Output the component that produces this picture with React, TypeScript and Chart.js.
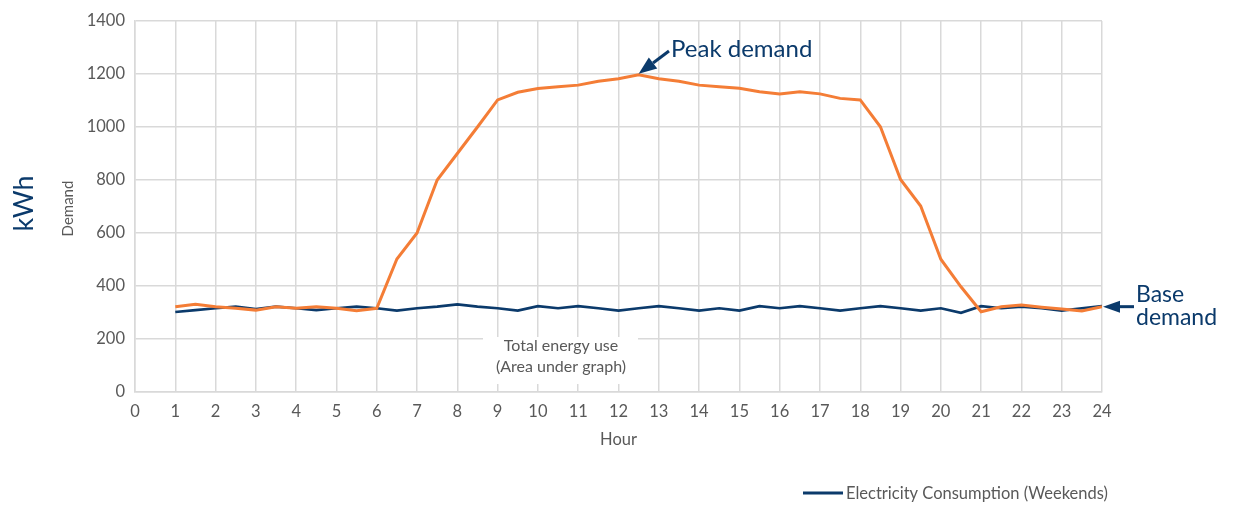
import { useEffect, useRef } from 'react';
import { Chart, registerables } from 'chart.js';

Chart.register(...registerables);

// ---- Data ----
const hours = [
  1, 1.5, 2, 2.5, 3, 3.5, 4, 4.5, 5, 5.5, 6, 6.5, 7, 7.5, 8, 8.5, 9, 9.5, 10, 10.5, 11, 11.5, 12, 12.5,
  13, 13.5, 14, 14.5, 15, 15.5, 16, 16.5, 17, 17.5, 18, 18.5, 19, 19.5, 20, 20.5, 21, 21.5, 22, 22.5, 23, 23.5, 24,
];
const weekdayDemand = [
  322, 331, 322, 316, 309, 322, 316, 322, 316, 307, 316, 502, 600, 800, 900, 1000, 1102, 1131, 1145, 1152, 1158, 1173, 1182, 1197,
  1182, 1173, 1158, 1152, 1146, 1133, 1125, 1133, 1125, 1108, 1102, 1001, 802, 702, 501, 397, 303, 322, 328, 320, 313, 306, 322,
];
const weekendDemand = [
  302, 309, 316, 322, 313, 322, 316, 309, 316, 322, 316, 307, 316, 322, 331, 322, 316, 307, 324, 316, 324, 316, 307, 316,
  324, 316, 307, 316, 307, 324, 316, 324, 316, 307, 316, 324, 316, 307, 316, 299, 324, 316, 322, 316, 307, 316, 324,
];
const xTicks = [0, 1, 2, 3, 4, 5, 6, 7, 8, 9, 10, 11, 12, 13, 14, 15, 16, 17, 18, 19, 20, 21, 22, 23, 24];
const yTicks = [0, 200, 400, 600, 800, 1000, 1200, 1400];
const weekdayLabel = 'Electricity Consumption (Weekdays)';
const weekendLabel = 'Electricity Consumption (Weekends)';
const peakHour = 12.5;
const peakValue = 1197;
const baseHour = 24;
const baseValue = 322;

// ---- Styles ----
const FONT = 'Lato, "Open Sans", sans-serif';
const NAVY = '#0B3A6B';
const ORANGE = '#F47D36';
const GRAY_TEXT = '#595959';
const GRID = '#D9D9D9';

function drawArrow(
  ctx: CanvasRenderingContext2D,
  x1: number, y1: number, x2: number, y2: number,
  headLen: number, headHalf: number, width: number, color: string,
) {
  const ang = Math.atan2(y2 - y1, x2 - x1);
  const bx = x2 - headLen * Math.cos(ang);
  const by = y2 - headLen * Math.sin(ang);
  ctx.save();
  ctx.strokeStyle = color;
  ctx.fillStyle = color;
  ctx.lineWidth = width;
  ctx.beginPath();
  ctx.moveTo(x1, y1);
  ctx.lineTo(bx, by);
  ctx.stroke();
  ctx.beginPath();
  ctx.moveTo(x2, y2);
  ctx.lineTo(bx + headHalf * Math.sin(ang), by - headHalf * Math.cos(ang));
  ctx.lineTo(bx - headHalf * Math.sin(ang), by + headHalf * Math.cos(ang));
  ctx.closePath();
  ctx.fill();
  ctx.restore();
}

export default function App() {
  const ref = useRef<HTMLCanvasElement>(null);

  useEffect(() => {
    const canvas = ref.current;
    if (!canvas) return;

    const annotations = {
      id: 'annotations',
      beforeDatasetsDraw(chart: any) {
        const { ctx } = chart;
        ctx.save();
        ctx.fillStyle = '#ffffff';
        ctx.fillRect(483, 337, 155, 47);
        ctx.fillStyle = GRAY_TEXT;
        ctx.font = `16px ${FONT}`;
        ctx.textAlign = 'center';
        ctx.textBaseline = 'middle';
        ctx.fillText('Total energy use', 561, 346);
        ctx.fillText('(Area under graph)', 561, 367);
        ctx.restore();
      },
      afterDraw(chart: any) {
        const { ctx, chartArea } = chart;
        const xs = chart.scales.x;
        const ys = chart.scales.y;
        const midY = (chartArea.top + chartArea.bottom) / 2;

        // Y axis titles
        ctx.save();
        ctx.translate(73, midY + 2);
        ctx.rotate(-Math.PI / 2);
        ctx.font = `15px ${FONT}`;
        ctx.fillStyle = GRAY_TEXT;
        ctx.textAlign = 'center';
        ctx.textBaseline = 'alphabetic';
        ctx.fillText('Demand', 0, 0);
        ctx.restore();

        ctx.save();
        ctx.translate(33, midY - 3);
        ctx.rotate(-Math.PI / 2);
        ctx.font = `27px ${FONT}`;
        ctx.fillStyle = NAVY;
        ctx.textAlign = 'center';
        ctx.textBaseline = 'alphabetic';
        ctx.fillText('kWh', 0, 0);
        ctx.restore();

        // Peak demand
        const px = xs.getPixelForValue(peakHour);
        const py = ys.getPixelForValue(peakValue);
        drawArrow(ctx, 669, 51, px, py - 1, 18, 7, 3, NAVY);
        ctx.save();
        ctx.font = `24px ${FONT}`;
        ctx.fillStyle = NAVY;
        ctx.textAlign = 'left';
        ctx.textBaseline = 'alphabetic';
        ctx.fillText('Peak demand', 671, 57);
        ctx.restore();

        // Base demand
        const bx = xs.getPixelForValue(baseHour);
        const by = ys.getPixelForValue(baseValue);
        drawArrow(ctx, 1134, by, bx + 1, by, 17, 6, 3, NAVY);
        ctx.save();
        ctx.font = `23px ${FONT}`;
        ctx.fillStyle = NAVY;
        ctx.textAlign = 'left';
        ctx.textBaseline = 'alphabetic';
        ctx.fillText('Base', 1136, 302);
        ctx.fillText('demand', 1136, 325);
        ctx.restore();

        // Legend
        ctx.save();
        ctx.strokeStyle = NAVY;
        ctx.lineWidth = 3;
        ctx.beginPath();
        ctx.moveTo(803, 493);
        ctx.lineTo(843, 493);
        ctx.stroke();
        ctx.font = `16.5px ${FONT}`;
        ctx.fillStyle = GRAY_TEXT;
        ctx.textAlign = 'left';
        ctx.textBaseline = 'middle';
        ctx.fillText(weekendLabel, 846, 494);
        ctx.restore();
      },
    };

    const chart = new Chart(canvas, {
      type: 'line',
      data: {
        datasets: [
          {
            label: weekdayLabel,
            data: hours.map((h, i) => ({ x: h, y: weekdayDemand[i] })),
            borderColor: ORANGE,
            backgroundColor: ORANGE,
            borderWidth: 3,
            pointRadius: 0,
            tension: 0,
          },
          {
            label: weekendLabel,
            data: hours.map((h, i) => ({ x: h, y: weekendDemand[i] })),
            borderColor: NAVY,
            backgroundColor: NAVY,
            borderWidth: 2.7,
            pointRadius: 0,
            tension: 0,
          },
        ],
      },
      options: {
        animation: false,
        responsive: false,
        devicePixelRatio: 1,
        layout: { padding: { top: 21, right: 134, bottom: 55, left: 0 } },
        plugins: { legend: { display: false }, tooltip: { enabled: false } },
        scales: {
          x: {
            type: 'linear',
            min: 0,
            max: 24,
            afterBuildTicks: (s: any) => { s.ticks = xTicks.map((v) => ({ value: v })); },
            afterFit: (s: any) => { s.height = 58; },
            grid: { color: GRID, lineWidth: 1.5, drawTicks: false },
            border: { color: GRID, width: 1.5 },
            ticks: {
              color: GRAY_TEXT, font: { family: FONT, size: 16.5 }, padding: 10, maxRotation: 0, autoSkip: false,
              callback: (v: any) => String(v),
            },
            title: { display: true, text: 'Hour', color: GRAY_TEXT, font: { family: FONT, size: 16.5 }, padding: 0 },
          },
          y: {
            min: 0,
            max: 1400,
            afterBuildTicks: (s: any) => { s.ticks = yTicks.map((v) => ({ value: v })); },
            afterFit: (s: any) => { s.width = 135; },
            grid: { color: GRID, lineWidth: 1.5, drawTicks: false },
            border: { color: GRID, width: 1.5 },
            ticks: {
              color: GRAY_TEXT, font: { family: FONT, size: 16.5 }, padding: 10,
              callback: (v: any) => String(v),
            },
          },
        },
      },
      plugins: [annotations],
    });

    return () => chart.destroy();
  }, []);

  return (
    <div style={{ position: 'fixed', left: 0, top: 0, width: 1236, height: 505, background: '#fff' }}>
      <canvas ref={ref} width={1236} height={505} style={{ display: 'block' }} />
    </div>
  );
}
